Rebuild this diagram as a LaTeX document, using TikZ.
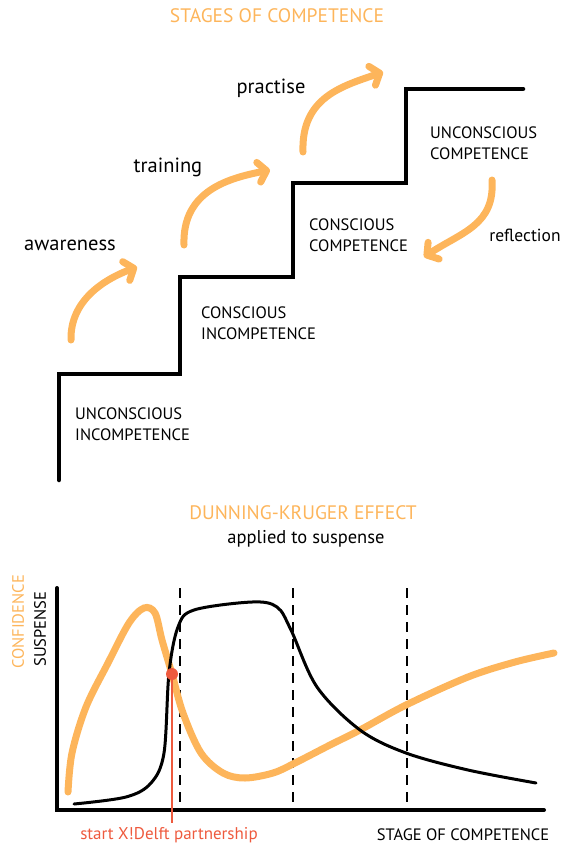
\documentclass[tikz,border=0pt]{standalone}
\usepackage{fontspec}
\setmainfont{PT Sans}
\usetikzlibrary{arrows.meta, calc}
\definecolor{sketchorange}{HTML}{FDB55B}
\definecolor{sketchred}{HTML}{EE5A3E}
\tikzset{
    my-title/.style={
        sketchorange, inner sep=0pt, font=\fontsize{19.5}{22}\selectfont
    },
    my-stage/.style={
        anchor=west, align=left, inner sep=0pt, font=\fontsize{16.5}{21}\selectfont
    },
    my-word/.style={
        inner sep=0pt, font=\fontsize{20.5}{23}\selectfont
    },
    my-stair/.style={
        line width=4.5pt, line cap=round, line join=miter
    },
    my-arrow/.style={
        sketchorange, line width=7pt, line cap=round,
        -{Straight Barb[length=8pt, width=20pt, round]}
    },
    my-axis/.style={
        line width=4pt, line cap=round
    },
    my-dash/.style={
        line width=2pt, dash pattern=on 10pt off 7pt
    },
    my-branch/.style={
        fill=sketchred, shape=circle, minimum size=12pt, inner sep=0pt
    },
}

\begin{document}
\begin{tikzpicture}[x=1pt, y=-1pt]

        \useasboundingbox (0, 0) rectangle (563, 845);

        % STAGES OF COMPETENCE ------------------------------------------------------------------------

        % TITLE
        \node[my-title] (STAGESTITLE) at (277, 16) {STAGES OF COMPETENCE};

        % STAIR CORNERS
        \coordinate[] (STAIR0) at (59, 480);
        \coordinate[] (STAIR1) at ($(STAIR0) + (0, -106)$);
        \coordinate[] (STAIR2) at ($(STAIR1) + (121, 0)$);
        \coordinate[] (STAIR3) at ($(STAIR2) + (0, -97)$);
        \coordinate[] (STAIR4) at ($(STAIR3) + (113, 0)$);
        \coordinate[] (STAIR5) at ($(STAIR4) + (0, -94)$);
        \coordinate[] (STAIR6) at ($(STAIR5) + (113, 0)$);
        \coordinate[] (STAIR7) at ($(STAIR6) + (0, -94)$);
        \coordinate[] (STAIR8) at ($(STAIR7) + (117, 0)$);
        \draw[my-stair] (STAIR0) -- (STAIR1) -- (STAIR2) -- (STAIR3) -- (STAIR4)
                                 -- (STAIR5) -- (STAIR6) -- (STAIR7) -- (STAIR8);

        % STAGE LABELS
        \node[my-stage] (UI) at ($(STAIR1) + (16, 50)$) {UNCONSCIOUS\\INCOMPETENCE};
        \node[my-stage] (CI) at ($(STAIR3) + (21, 46)$) {CONSCIOUS\\INCOMPETENCE};
        \node[my-stage] (CC) at ($(STAIR5) + (16, 52)$) {CONSCIOUS\\COMPETENCE};
        \node[my-stage] (UC) at ($(STAIR7) + (24, 54)$) {UNCONSCIOUS\\COMPETENCE};

        % STEP WORDS
        \node[my-word] (AWARENESS)  at (70, 245)  {awareness};
        \node[my-word] (TRAINING)   at (168, 167) {training};
        \node[my-word] (PRACTISE)   at (271, 88)  {practise};
        \node[my-word, font=\fontsize{17.5}{20}\selectfont] (REFLECTION) at (525, 235) {reflection};

        % ARROW END POINTS
        \coordinate[] (AWARESTART) at (71, 340);
        \coordinate[] (AWAREEND)   at (137, 267);
        \coordinate[] (TRAINSTART) at (184, 245);
        \coordinate[] (TRAINEND)   at (270, 170);
        \coordinate[] (PRACSTART)  at (303, 152);
        \coordinate[] (PRACEND)    at (383, 72);
        \coordinate[] (REFLSTART)  at (492, 180);
        \coordinate[] (REFLEND)    at (424, 257);

        % ARROWS
        \draw[my-arrow] (AWARESTART) .. controls +(-1, -40) and +(-32, 12) .. (AWAREEND);
        \draw[my-arrow] (TRAINSTART) .. controls +(-2, -55) and +(-40, 8)  .. (TRAINEND);
        \draw[my-arrow] (PRACSTART)  .. controls +(-2, -55) and +(-40, 14) .. (PRACEND);
        \draw[my-arrow] (REFLSTART)  .. controls +(3, 45)   and +(38, -25) .. (REFLEND);

        % DUNNING-KRUGER EFFECT -----------------------------------------------------------------------

        % TITLES
        \node[my-title] (DKTITLE) at (303, 513) {DUNNING-KRUGER EFFECT};
        \node[my-word, font=\fontsize{18.5}{21}\selectfont] (DKSUB) at ($(DKTITLE) + (3, 26)$) {applied to suspense};

        % AXES
        \coordinate[] (ORIGIN) at (57, 810);
        \coordinate[] (YTOP)   at ($(ORIGIN) + (0, -222)$);
        \coordinate[] (XEND)   at ($(ORIGIN) + (487, 0)$);
        \draw[my-axis] (YTOP) -- (ORIGIN) -- (XEND);

        % AXIS LABELS
        \node[my-stage, anchor=center, sketchorange, rotate=90] (CONFLABEL) at (18, 622) {CONFIDENCE};
        \node[my-stage, anchor=center, rotate=90]               (SUSPLABEL) at (40, 629) {SUSPENSE};
        \node[my-stage, anchor=center]                (STAGELABEL) at (463, 835) {STAGE OF COMPETENCE};

        % STAGE BORDERS
        \coordinate[] (BORDERA) at (180, 588);
        \coordinate[] (BORDERB) at (293, 588);
        \coordinate[] (BORDERC) at (407, 588);
        \draw[my-dash] (BORDERA) -- (BORDERA |- ORIGIN);
        \draw[my-dash] (BORDERB) -- (BORDERB |- ORIGIN);
        \draw[my-dash] (BORDERC) -- (BORDERC |- ORIGIN);

        % CONFIDENCE CURVE
        \draw[sketchorange, line width=7pt, line cap=round] plot[smooth, tension=0.55] coordinates {
            (68, 792) (72, 753) (86, 707) (108, 663) (129, 623) (144, 608) (155, 613)
            (162, 640) (172, 674) (183, 713) (201, 753) (223, 773) (245, 778) (273, 773)
            (295, 763) (330, 745) (360, 730) (406, 705) (468, 677) (515, 662) (554, 653)
        };

        % SUSPENSE CURVE
        \draw[line width=3pt, line cap=round] plot[smooth, tension=0.55] coordinates {
            (74, 804) (126, 797) (151, 783) (164, 753) (169, 673) (178, 627) (194, 610)
            (252, 602) (277, 607) (291, 630) (317, 687) (360, 730) (406, 753) (468, 770)
            (536, 783)
        };

        % START OF PARTNERSHIP
        \node[my-branch] (XDELFT) at (172, 674) {};
        \coordinate[]    (XDELFTFOOT) at ($(XDELFT) + (0, 149)$);
        \draw[sketchred, line width=2.5pt] (XDELFT.center) -- (XDELFTFOOT);
        \node[my-word, sketchred, font=\fontsize{17}{20}\selectfont] (XDELFTLABEL) at (169, 835) {start X!Delft partnership};

\end{tikzpicture}
\end{document}
